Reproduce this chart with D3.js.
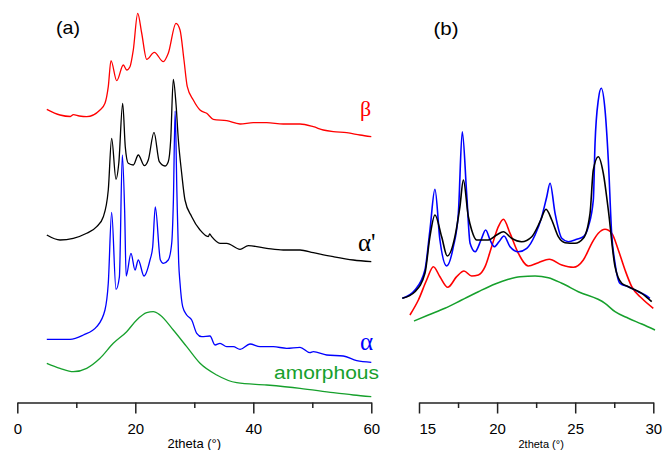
<!DOCTYPE html>
<html>
<head>
<meta charset="utf-8">
<script src="https://cdn.jsdelivr.net/npm/d3@7"></script>
<style>
  body { margin: 0; background: #fff; }
  svg { display: block; }
</style>
</head>
<body>
<script>
// X-ray diffraction patterns, intensity in arbitrary units (stacked with offsets).
// Each point: [2theta in degrees, intensity]

// Panel (a): wide-angle scans 5–60°
const betaA = [
  [5.0,292.7],[7.24,287],[9.0,285.5],[9.5,287.3],[10.5,286],[11.76,285.3],[14.02,292],[14.86,298.7],
  [15.42,315.3],[15.88,341.3],[16.85,321.3],[17.97,337],[18.54,332],[19.10,335.3],[19.66,352],
  [20.41,388.7],[21.08,369],[21.93,342.7],[23.22,349.7],[24.75,340.3],[25.59,348.7],[26.90,378.7],
  [27.58,372],[28.25,342],[28.81,315.3],[29.83,302],[30.97,292],[32.10,288.7],[33.22,282.7],
  [35.49,281.3],[37.75,278],[40.0,279.3],[42.27,279.3],[45.08,278],[47.92,278],[50.17,275.3],
  [51.86,272],[53.56,270.3],[55.83,269.3],[58.08,267],[60.0,265.3]
];
const alphaPrimeA = [
  [5.0,167],[7.24,162],[9.49,163.7],[11.76,168.7],[13.46,175.3],[14.58,185.3],[15.42,212],
  [15.99,263.7],[16.73,222.7],[17.2,238.7],[17.86,298.7],[18.3,255.3],[18.81,238.7],[19.66,237],
  [20.51,247],[21.53,236.3],[22.20,242],[23.17,269.7],[24.07,240.3],[25.03,236],[25.59,240.3],
  [26.0,262],[26.44,322.7],[26.9,298],[27.3,262],[27.86,228.7],[28.42,202],[29.56,185.3],[30.97,172],[32.37,165.3],
  [32.6,168],[32.95,165.3],[34.36,158.7],[35.49,158.7],[37.75,152.7],[39.15,156.3],[42.27,153.7],
  [45.08,152],[47.92,152],[50.17,149.3],[53.56,145.3],[56.95,142],[60.0,140.3]
];
const alphaA = [
  [5.0,62.7],[7.24,62.7],[8.93,62.7],[11.19,67],[13.46,75.3],[14.86,92],[15.42,118.7],
  [15.99,189.5],[16.73,112.7],[17.3,125],[17.80,247],[18.2,190],[18.45,126],[19.27,148.7],
  [19.95,132],[20.51,142],[21.47,126],[22.49,142],[22.95,155.3],[23.39,195],[24.25,142],
  [24.75,138.7],[25.59,142],[26.17,158.7],[26.45,200],[26.75,291],[27.05,210],[27.35,140],
  [27.58,119],[28.03,95.3],[28.71,87],[29.56,82],[30.41,68.7],[31.25,65.3],[32.66,66],
  [33.51,57],[34.36,58.7],[35.49,55.3],[36.61,55.3],[37.75,52.7],[39.44,58],[41.14,55.3],
  [43.39,55.3],[45.66,53.7],[47.92,54.7],[49.61,49.3],[50.17,50.3],[52.44,47],[55.25,46],
  [57.53,41.3],[60.0,39.7]
];
const amorphousA = [
  [5.0,38.7],[7.24,33.7],[9.49,30.3],[11.76,33.7],[14.02,43.7],[16.27,58.7],[18.54,70.3],
  [20.24,82],[21.93,89.3],[23.05,90.3],[24.19,87],[26.44,72],[28.71,55.3],[30.97,38.7],
  [33.80,27],[37.19,19.3],[42.27,17],[47.92,13.7],[53.56,9.3],[56.95,7],[60.0,5.3]
];

// Panel (b): detail of the 14–30° region
const alphaB = [
  [13.93,103.7],[14.74,112],[15.38,132],[15.70,172],[16.02,212.7],[16.34,162],[16.77,136],
  [17.20,155.3],[17.52,188.7],[17.77,270.3],[18.05,208.7],[18.27,158.7],[18.59,150.3],
  [18.97,162],[19.27,172],[19.55,162],[19.82,155.3],[20.12,160.3],[20.44,166],[20.83,155.3],
  [21.36,150.3],[21.90,153.7],[22.43,167],[22.86,185.3],[23.18,205.3],[23.39,218.7],
  [23.71,188.7],[24.14,163.7],[24.56,160.3],[25.10,162.7],[25.52,165.3],[25.84,175.3],
  [26.16,202],[26.27,258.7],[26.48,302],[26.67,313.7],[26.91,292],[27.12,242],[27.34,167],
  [27.55,138.7],[27.87,118.7],[28.40,115.3],[29.04,110.3],[29.47,107],[29.78,103.7]
];
const alphaPrimeB = [
  [13.93,103.7],[14.74,110.3],[15.38,128.7],[15.70,165.3],[16.02,187],[16.45,165.3],[16.81,146],
  [17.30,165.3],[17.62,195.3],[17.84,222],[18.16,185.3],[18.37,172],[18.69,162],[19.44,162],
  [19.97,167],[20.40,170.3],[20.93,163.7],[21.57,160.3],[22.22,165.3],[22.75,180.3],
  [23.13,192.7],[23.50,182],[23.92,165.3],[24.35,159.3],[24.99,158.7],[25.52,163.7],
  [25.95,188.7],[26.16,232],[26.48,245.3],[26.80,228.7],[27.12,192],[27.55,135.3],
  [27.98,118.7],[28.40,115.3],[29.26,108.7],[29.90,100.3]
];
const betaB = [
  [14.42,87],[14.96,102],[15.49,122],[15.92,135.3],[16.34,125.3],[16.84,114.7],[17.41,125.3],
  [17.88,131],[18.37,126],[18.80,127],[19.23,135.3],[19.65,155.3],[20.08,175.3],[20.40,182.7],
  [20.83,168.7],[21.36,148.7],[22.00,136],[22.64,139.3],[23.34,142.7],[24.14,137],[24.88,134.7],
  [25.52,142],[26.06,158.7],[26.48,168.7],[26.91,172.7],[27.34,168.7],[27.76,152],[28.19,132],
  [28.62,115.3],[29.26,103.7],[30.00,93.7]
];
const amorphousB = [
  [14.68,81],[15.60,87],[16.66,93.7],[17.73,102],[18.80,110.3],[19.87,118],[20.72,122.7],
  [21.47,125.3],[22.43,126],[23.28,124.3],[24.14,118.7],[25.20,110.3],[26.91,98.7],[27.55,90.3],
  [28.40,83.7],[29.26,78],[30.11,72]
];

const ticksA = [0, 20, 40, 60];
const minorTicksA = [10, 30, 50];
const ticksB = [15, 20, 25, 30];
const minorTicksB = [17.5, 22.5, 27.5];
const axisTitle = "2theta (°)";

const W = 663, H = 450;
const colors = { beta: "#ff0000", alphaPrime: "#000000", alpha: "#0000ff", amorphous: "#16a02c" };

const svg = d3.select("body").append("svg")
  .attr("width", W).attr("height", H)
  .attr("font-family", "'Liberation Sans', Arial, sans-serif");

const xA = d3.scaleLinear().domain([0, 60]).range([17.3, 371.3]);
const xB = d3.scaleLinear().domain([15, 30]).range([419, 653.3]);
const y = d3.scaleLinear().domain([0, 400]).range([402, 2]);
const axisY = 402.5;

function drawAxis(x, major, minor, titleSize, firstAnchorStart) {
  const g = svg.append("g").attr("transform", `translate(0,${axisY})`);
  g.call(d3.axisBottom(x).tickValues(major).tickSize(11).tickSizeOuter(0).tickPadding(10)
    .tickFormat(d3.format("d")));
  g.select(".domain").attr("stroke", "#222").attr("stroke-width", 1.5);
  g.selectAll(".tick line").attr("stroke", "#222").attr("stroke-width", 1.5);
  g.selectAll(".tick text").attr("font-size", 15).attr("fill", "#000")
    .attr("font-family", "'Liberation Sans', Arial, sans-serif");
  if (firstAnchorStart) {
    g.selectAll(".tick text").filter((d, i) => i === 0).attr("text-anchor", "start");
  }
  const gm = svg.append("g").attr("transform", `translate(0,${axisY})`);
  gm.call(d3.axisBottom(x).tickValues(minor).tickSize(5.5).tickFormat(""));
  gm.select(".domain").remove();
  gm.selectAll(".tick line").attr("stroke", "#222").attr("stroke-width", 1.5);
  const [r0, r1] = x.range();
  svg.append("text")
    .attr("x", (r0 + r1) / 2 + (firstAnchorStart ? 5 : 0)).attr("y", 448)
    .attr("text-anchor", "middle").attr("font-size", titleSize).attr("fill", "#000")
    .text(axisTitle);
}

drawAxis(xA, ticksA, minorTicksA, 13, false);
drawAxis(xB, ticksB, minorTicksB, 11, true);

function drawCurve(data, x, color, width) {
  const line = d3.line().x(d => x(d[0])).y(d => y(d[1])).curve(d3.curveMonotoneX);
  svg.append("path").datum(data)
    .attr("d", line).attr("fill", "none")
    .attr("stroke", color).attr("stroke-width", width)
    .attr("stroke-linejoin", "round");
}

// Panel (a)
drawCurve(amorphousA, xA, colors.amorphous, 1.3);
drawCurve(alphaA, xA, colors.alpha, 1.3);
drawCurve(alphaPrimeA, xA, colors.alphaPrime, 1.3);
drawCurve(betaA, xA, colors.beta, 1.3);

// Panel (b)
drawCurve(amorphousB, xB, colors.amorphous, 1.5);
drawCurve(betaB, xB, colors.beta, 1.6);
drawCurve(alphaB, xB, colors.alpha, 1.6);
drawCurve(alphaPrimeB, xB, colors.alphaPrime, 1.6);

// Panel letters
svg.append("text").attr("x", 56).attr("y", 34).attr("font-size", 19)
  .attr("textLength", 24).attr("lengthAdjust", "spacingAndGlyphs").text("(a)");
svg.append("text").attr("x", 433.5).attr("y", 34.5).attr("font-size", 19)
  .attr("textLength", 25).attr("lengthAdjust", "spacingAndGlyphs").text("(b)");

// Series labels
const serif = "'Liberation Serif', 'Times New Roman', serif";
svg.append("text").attr("x", 360).attr("y", 115.5).attr("font-family", serif)
  .attr("font-size", 22).attr("fill", colors.beta).text("β");
svg.append("text").attr("x", 358).attr("y", 251).attr("font-family", serif)
  .attr("font-size", 25).attr("fill", colors.alphaPrime).text("α'");
svg.append("text").attr("x", 360).attr("y", 350).attr("font-family", serif)
  .attr("font-size", 25).attr("fill", colors.alpha).text("α");
svg.append("text").attr("x", 274).attr("y", 378.5).attr("font-size", 18)
  .attr("textLength", 105).attr("lengthAdjust", "spacingAndGlyphs")
  .attr("fill", colors.amorphous).text("amorphous");
</script>
</body>
</html>
